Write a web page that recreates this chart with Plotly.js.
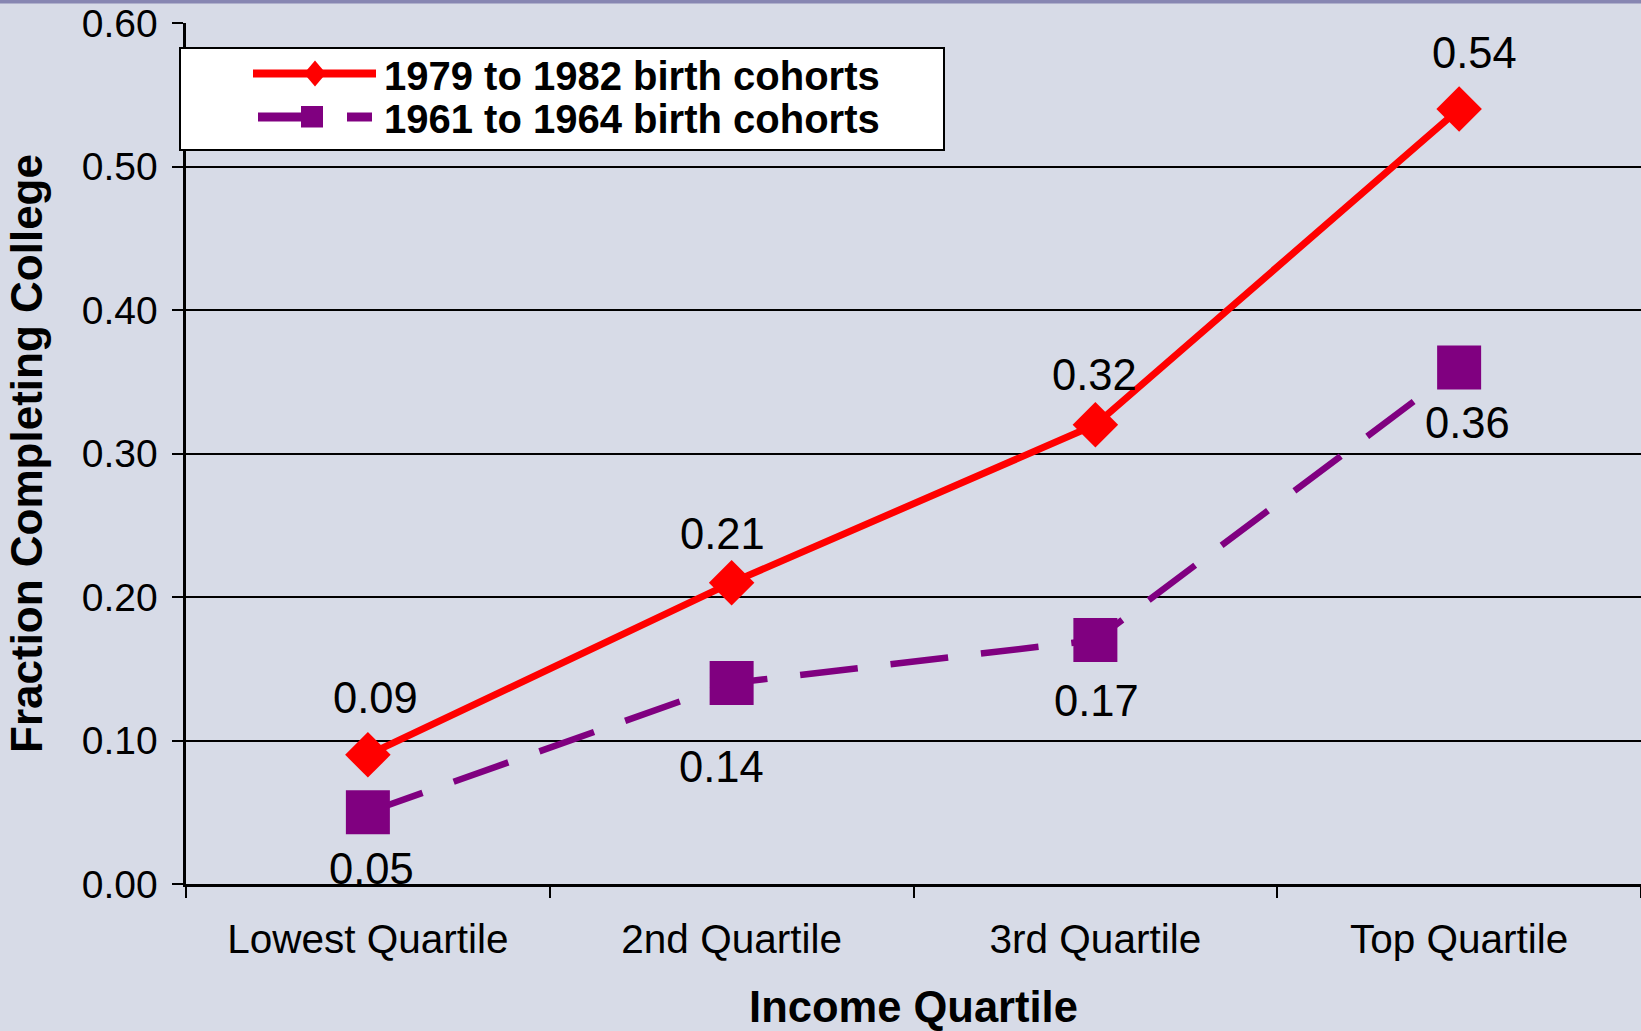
<!DOCTYPE html>
<html>
<head>
<meta charset="utf-8">
<script src="https://cdn.plot.ly/plotly-3.0.1.min.js"></script>
<style>html,body{margin:0;padding:0;background:#d7dbe7;}#chart{width:1641px;height:1031px;}</style>
</head>
<body>
<div id="chart"></div>
<script>
// ---- data ----
const categories = ['Lowest Quartile', '2nd Quartile', '3rd Quartile', 'Top Quartile'];
const cohort1979 = [0.09, 0.21, 0.32, 0.54];
const cohort1961 = [0.05, 0.14, 0.17, 0.36];
const seriesNames = ['1979 to 1982 birth cohorts', '1961 to 1964 birth cohorts'];
const yTickVals = [0, 0.1, 0.2, 0.3, 0.4, 0.5, 0.6];
const xTitle = 'Income Quartile';
const yTitle = 'Fraction Completing College';

// ---- style ----
const FONT = '"Liberation Sans", Arial, Helvetica, sans-serif';
const RED = '#ff0000', PURPLE = '#800080', BG = '#d7dbe7';
const W = 1641, H = 1031, ML = 186, MR = 0, MT = 23, MB = 147;
const PW = W - ML - MR, PH = H - MT - MB;
const px = x => (x - ML) / PW;
const py = y => (H - MB - y) / PH;
// label offsets in pixels (x, y up-positive)
const redLabelShift = [[8, 57], [-9, 49], [-1, 50], [15, 56]];
const purpleLabelShift = [[4, -57], [-10, -84], [1, -61], [8, -56]];

const traces = [
  {
    type: 'scatter', mode: 'lines+markers', name: seriesNames[0],
    x: categories, y: cohort1979, showlegend: false,
    line: {color: RED, width: 7},
    marker: {symbol: 'diamond', size: 35, color: RED}
  },
  {
    type: 'scatter', mode: 'lines+markers', name: seriesNames[1],
    x: categories, y: cohort1961, showlegend: false,
    line: {color: PURPLE, width: 6.5, dash: '58px,33px'},
    marker: {symbol: 'square', size: 44, color: PURPLE}
  }
];

const annotations = [];
cohort1979.forEach((v, i) => annotations.push({
  x: categories[i], y: v, xref: 'x', yref: 'y', text: v.toFixed(2), showarrow: false,
  xshift: redLabelShift[i][0], yshift: redLabelShift[i][1],
  font: {family: FONT, size: 43.5, color: '#000'}
}));
cohort1961.forEach((v, i) => annotations.push({
  x: categories[i], y: v, xref: 'x', yref: 'y', text: v.toFixed(2), showarrow: false,
  xshift: purpleLabelShift[i][0], yshift: purpleLabelShift[i][1],
  font: {family: FONT, size: 43.5, color: '#000'}
}));

// legend (drawn as key)
const legendRows = [75.5, 119.5];
seriesNames.forEach((n, i) => annotations.push({
  x: px(382), y: py(legendRows[i]), xref: 'paper', yref: 'paper', xanchor: 'left', yanchor: 'middle',
  text: n, showarrow: false, font: {family: FONT, size: 40, color: '#000', weight: 'bold'}
}));

const shapes = [
  // top band
  {type: 'rect', xref: 'paper', yref: 'paper', x0: px(0), x1: px(W), y0: py(0), y1: py(3.5),
   fillcolor: '#8786b2', line: {width: 0}, layer: 'above'},
  // legend box
  {type: 'rect', xref: 'paper', yref: 'paper', x0: px(180), x1: px(944), y0: py(48), y1: py(150),
   fillcolor: '#ffffff', line: {color: '#000', width: 2}, layer: 'above'},
  // red key
  {type: 'line', xref: 'paper', yref: 'paper', x0: px(253), x1: px(376), y0: py(73.5), y1: py(73.5),
   line: {color: RED, width: 8}, layer: 'above'},
  {type: 'path', xref: 'paper', yref: 'paper', layer: 'above', fillcolor: RED, line: {width: 0},
   path: `M${px(315)},${py(60.5)} L${px(326)},${py(73.5)} L${px(315)},${py(86.5)} L${px(304)},${py(73.5)} Z`},
  // purple key
  {type: 'line', xref: 'paper', yref: 'paper', x0: px(258), x1: px(304), y0: py(117), y1: py(117),
   line: {color: PURPLE, width: 9}, layer: 'above'},
  {type: 'rect', xref: 'paper', yref: 'paper', x0: px(301), x1: px(323), y0: py(106), y1: py(127.5),
   fillcolor: PURPLE, line: {width: 0}, layer: 'above'},
  {type: 'line', xref: 'paper', yref: 'paper', x0: px(347), x1: px(372), y0: py(117), y1: py(117),
   line: {color: PURPLE, width: 9}, layer: 'above'}
];

const layout = {
  width: W, height: H,
  margin: {l: ML, r: MR, t: MT, b: MB, pad: 0},
  paper_bgcolor: BG, plot_bgcolor: BG,
  showlegend: false,
  font: {family: FONT, color: '#000'},
  xaxis: {
    type: 'category', categoryorder: 'array', categoryarray: categories,
    range: [-0.5, 3.5], tickson: 'boundaries',
    ticks: 'outside', ticklen: 11, tickwidth: 2, tickcolor: '#000',
    showline: true, linecolor: '#000', linewidth: 3, showgrid: false, zeroline: false,
    tickfont: {family: FONT, size: 40.5, color: '#000'}, ticklabelstandoff: 17,
    title: {text: xTitle, font: {family: FONT, size: 43.5, color: '#000', weight: 'bold'}, standoff: 40},
    fixedrange: true
  },
  yaxis: {
    range: [0, 0.6], tickvals: yTickVals, tickformat: '.2f',
    ticks: 'outside', ticklen: 11, tickwidth: 2, tickcolor: '#000',
    showline: true, linecolor: '#000', linewidth: 3.5,
    showgrid: true, gridcolor: '#000', gridwidth: 2, zeroline: false,
    tickfont: {family: FONT, size: 39, color: '#000'}, ticklabelstandoff: 6,
    title: {text: yTitle, font: {family: FONT, size: 44, color: '#000', weight: 'bold'}, standoff: 26},
    fixedrange: true
  },
  annotations: annotations,
  shapes: shapes
};

Plotly.newPlot('chart', traces, layout, {displayModeBar: false, staticPlot: true});
</script>
</body>
</html>
